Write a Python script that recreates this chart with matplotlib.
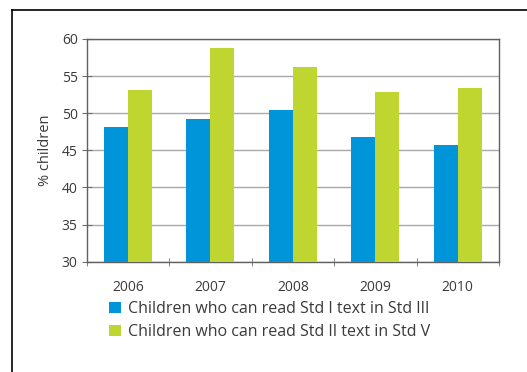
import matplotlib
matplotlib.use("Agg")
import matplotlib.pyplot as plt
from matplotlib.lines import Line2D
from matplotlib.patches import Patch
import numpy as np

plt.rcParams['font.family'] = ['Open Sans', 'DejaVu Sans']

years = ["2006", "2007", "2008", "2009", "2010"]
std3 = [48.1, 49.2, 50.5, 46.8, 45.7]
std5 = [53.1, 58.8, 56.2, 52.9, 53.4]
labels = ["Children who can read Std I text in Std III",
          "Children who can read Std II text in Std V"]
blue = "#0094d8"
green = "#bfd630"
txt = "#3a3a3a"

W, H = 527, 372
fig = plt.figure(figsize=(W/100, H/100), dpi=100)
ax = fig.add_axes([86.7/W, 1-261.7/H, (499-86.7)/W, (261.7-39)/H])

x = np.arange(len(years))
bw = 0.29
ax.bar(x - bw/2, std3, bw, color=blue, zorder=3, label=labels[0])
ax.bar(x + bw/2, std5, bw, color=green, zorder=3, label=labels[1])

ax.set_ylim(30, 60)
ax.set_xlim(-0.5, len(years)-0.5)
ax.set_yticks(range(30, 61, 5))
ax.yaxis.grid(True, color="#a8a8a8", linewidth=1.0, zorder=0)
ax.set_axisbelow(True)
ax.set_xticks(x)
ax.set_xticklabels(years)
ax.tick_params(axis='x', length=0, pad=13, labelsize=10, labelcolor=txt)
ax.set_xticks(np.arange(-0.5, len(years)), minor=True)
ax.tick_params(axis='x', which='minor', length=6, direction='inout', color="#707070")
ax.tick_params(axis='y', length=7, direction='inout', color="#707070", labelsize=10,
               labelcolor=txt, pad=3)
for s in ax.spines.values():
    s.set_color("#606060")
    s.set_linewidth(1.0)
ax.set_ylabel("% children", fontsize=10.5, color=txt, labelpad=6)

handles = [Patch(facecolor=blue), Patch(facecolor=green)]
fig.legend(handles, labels, loc="upper left", bbox_to_anchor=(109/W, 1-301/H),
           frameon=False, fontsize=11.5, handlelength=0.75, handleheight=0.75,
           handletextpad=0.45, labelspacing=0.45, borderaxespad=0, borderpad=0,
           labelcolor=txt)

fig.add_artist(Line2D([12/W, 12/W], [0, 1-10/H], color="black", linewidth=1.2,
                      transform=fig.transFigure))
fig.add_artist(Line2D([12/W, 1], [1-10/H, 1-10/H], color="black", linewidth=1.2,
                      transform=fig.transFigure))

fig.savefig("out.png", dpi=100)
